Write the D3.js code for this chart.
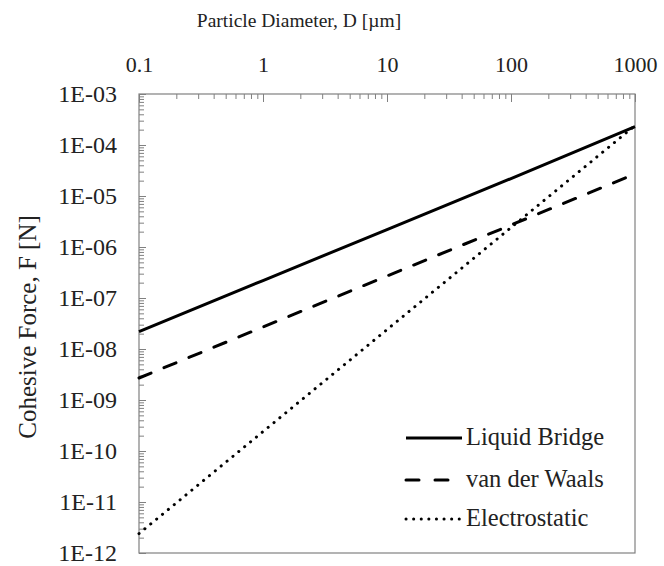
<!DOCTYPE html>
<html>
<head>
<meta charset="utf-8">
<script src="https://cdn.jsdelivr.net/npm/d3@7"></script>
<style>
body { margin: 0; background: #fff; }
text { font-family: "Liberation Serif", "Times New Roman", serif; fill: #222; }
</style>
</head>
<body>
<svg width="664" height="566"></svg>
<script>
// data
var diameters = [0.1, 1, 10, 100, 1000];
var liquidBridge = [2.2e-8, 2.2e-7, 2.2e-6, 2.2e-5, 2.3e-4];
var vanDerWaals = [2.7e-9, 2.7e-8, 2.7e-7, 2.7e-6, 2.7e-5];
var electrostatic = [2.4e-12, 2.4e-10, 2.4e-8, 2.4e-6, 2.4e-4];
var seriesNames = ["Liquid Bridge", "van der Waals", "Electrostatic"];
var xTicks = [0.1, 1, 10, 100, 1000];
var yTicks = [1e-12, 1e-11, 1e-10, 1e-9, 1e-8, 1e-7, 1e-6, 1e-5, 1e-4, 1e-3];

var svg = d3.select("svg"),
	plotLeft = 139, plotRight = 635, plotTop = 94, plotBottom = 553;

var x = d3.scaleLog().domain([0.1, 1000]).range([plotLeft, plotRight]);
var y = d3.scaleLog().domain([1e-12, 1e-3]).range([plotBottom, plotTop]);

var axisColor = "#808080";

// minor ticks
var xMinor = [], yMinor = [];
xTicks.slice(0, -1).forEach(function(t){ for(var k=2;k<10;k++) xMinor.push(t*k); });
yTicks.slice(0, -1).forEach(function(t){ for(var k=2;k<10;k++) yMinor.push(t*k); });

var gx = svg.append("g").attr("transform", "translate(0," + plotTop + ")");
gx.call(d3.axisTop(x).tickValues(xMinor).tickSize(-5).tickFormat(""));
gx.append("g").call(d3.axisTop(x).tickValues(xTicks).tickSize(-8).tickPadding(22)
	.tickFormat(function(d){ return d < 1 ? d.toFixed(1) : String(d); }));
gx.selectAll(".tick text").style("font-size", "22px");

var gy = svg.append("g").attr("transform", "translate(" + plotLeft + ",0)");
gy.call(d3.axisLeft(y).tickValues(yMinor).tickSize(-5).tickFormat(""));
gy.append("g").call(d3.axisLeft(y).tickValues(yTicks).tickSize(-7).tickPadding(22)
	.tickFormat(function(d){ var e = -Math.round(Math.log10(d)); return "1E-" + (e < 10 ? "0" + e : e); }));
gy.selectAll(".tick text").style("font-size", "24px");

svg.selectAll(".domain").remove();
svg.selectAll(".tick line").attr("stroke", axisColor);
svg.selectAll(".tick text").style("font-family", "Liberation Serif").attr("fill", "#222");

// frame
svg.append("rect")
	.attr("x", plotLeft).attr("y", plotTop)
	.attr("width", plotRight - plotLeft).attr("height", plotBottom - plotTop)
	.attr("fill", "none").attr("stroke", axisColor).attr("stroke-width", 1.2);

// series
var styles = [
	{ dash: null, cap: "butt" },
	{ dash: "13,14", cap: "round" },
	{ dash: "0.1,7.5", cap: "round" }
];
var allSeries = [liquidBridge, vanDerWaals, electrostatic];

var line = d3.line()
	.x(function(d){ return x(d[0]); })
	.y(function(d){ return y(d[1]); });

allSeries.forEach(function(vals, i){
	var pts = diameters.map(function(dm, j){ return [dm, vals[j]]; });
	svg.append("path")
		.datum(pts)
		.attr("d", line)
		.attr("fill", "none")
		.attr("stroke", "#000")
		.attr("stroke-width", 3)
		.attr("stroke-linecap", styles[i].cap)
		.attr("stroke-dasharray", styles[i].dash);
});

// legend
var legY = [438, 480, 519];
var leg = svg.append("g");
seriesNames.forEach(function(name, i){
	leg.append("line")
		.attr("x1", 406).attr("x2", 462)
		.attr("y1", legY[i]).attr("y2", legY[i])
		.attr("stroke", "#000")
		.attr("stroke-width", 3)
		.attr("stroke-linecap", styles[i].cap)
		.attr("stroke-dasharray", i == 1 ? "13,16" : styles[i].dash);
	leg.append("text")
		.attr("x", 466).attr("y", legY[i] + 7)
		.style("font-size", "24.5px")
		.text(name);
});

// axis titles
svg.append("text")
	.attr("x", 299).attr("y", 27)
	.attr("text-anchor", "middle")
	.style("font-size", "19.5px")
	.text("Particle Diameter, D [\u00b5m]");

svg.append("text")
	.attr("transform", "translate(36,327) rotate(-90)")
	.attr("text-anchor", "middle")
	.style("font-size", "25px")
	.text("Cohesive Force, F [N]");
</script>
</body>
</html>
